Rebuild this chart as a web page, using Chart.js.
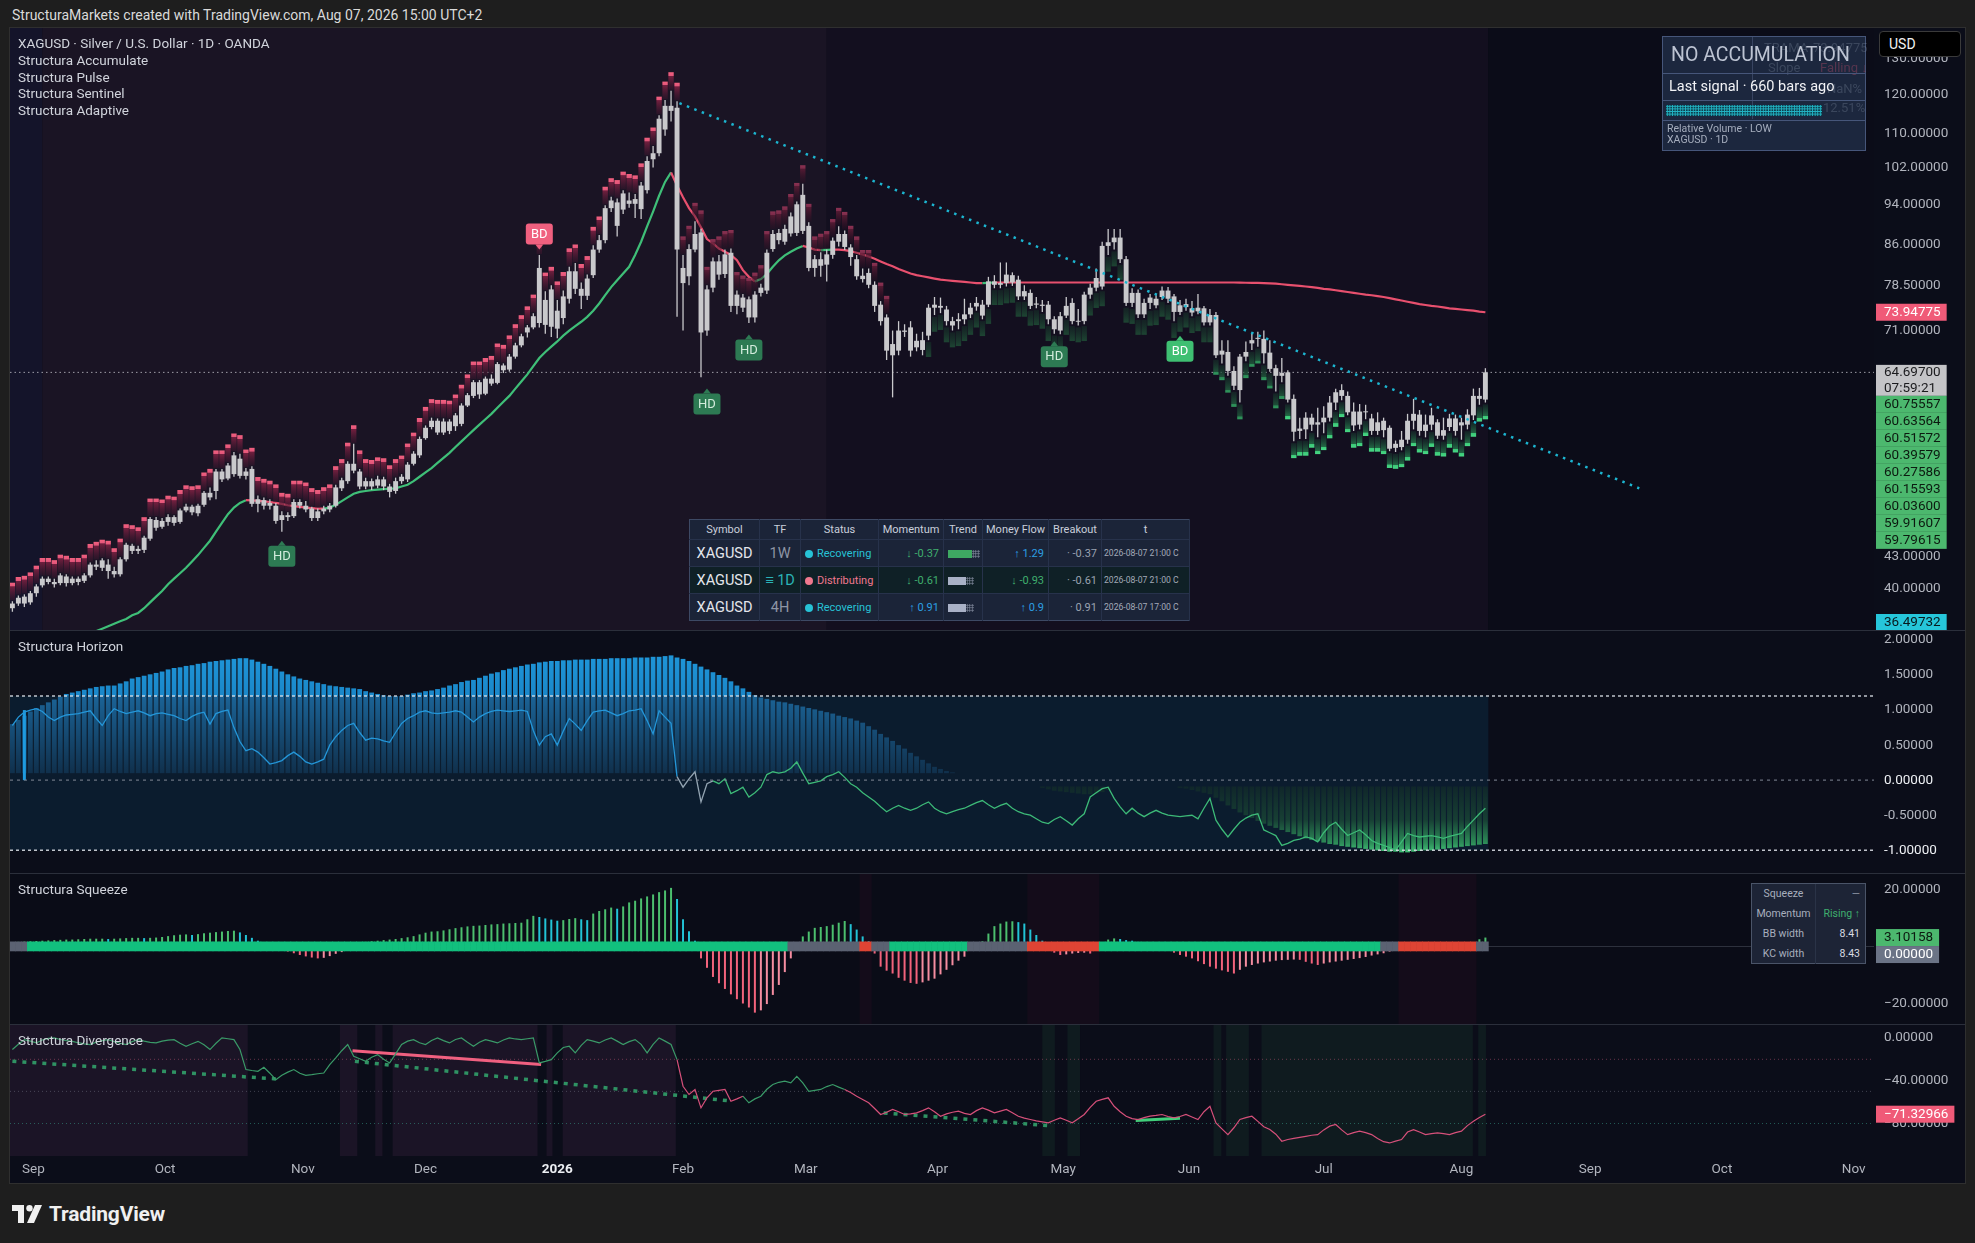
<!DOCTYPE html>
<html lang="en">
<head>
<meta charset="UTF-8">
<meta name="viewport" content="width=device-width, initial-scale=1.0">
<title>XAGUSD · Silver / U.S. Dollar · 1D</title>
<script src="https://cdn.jsdelivr.net/npm/chart.js"></script>
<style>
  html, body { margin: 0; padding: 0; }
  body { width: 1975px; height: 1243px; background: #1e1e1e; position: relative; overflow: hidden;
    font-family: Roboto, "Noto Sans", Arial, sans-serif; color: #d1d4dc; }
  #header { position: absolute; left: 12px; top: 6px; font-size: 14px; line-height: 18px; color: #dadada; }
  #frame { position: absolute; left: 9px; top: 27px; width: 1955px; height: 1155px; border: 1px solid #2f2f2f; background: #0b0d19; }
  .pane { position: absolute; left: 10px; width: 1955px; }
  #paneMain { top: 28px; height: 602px; background: #0b0d19; }
  #paneHor { top: 631px; height: 242px; background: #0b0d19; }
  #paneSqz { top: 874px; height: 150px; background: #0a0c17; }
  #paneDiv { top: 1025px; height: 157px; background: #0b0d19; }
  .sep { position: absolute; left: 10px; width: 1955px; height: 1px; background: #2b2f3b; }
  .lbl { position: absolute; left: 18px; font-size: 13.5px; line-height: 16.8px; color: #d1d4dc; }

  #usd { position: absolute; left: 1879px; top: 31px; width: 82px; height: 26px; background: #000; border: 1px solid #3a3a3a;
    border-radius: 4px; font-size: 14px; font-weight: 400; color: #f2f2f2; line-height: 24px; padding-left: 9px; box-sizing: border-box; }

  #acc { position: absolute; left: 1662px; top: 36px; width: 204px; height: 115px; background: rgba(30,42,66,0.93);
    border: 1px solid #46567a; box-sizing: border-box; }
  #acc .row { position: absolute; left: 0; width: 202px; border-bottom: 1px solid #46567a; box-sizing: border-box; }
  #acc .ghost { position: absolute; font-size: 13px; color: rgba(170,180,200,0.22); white-space: nowrap; }
  #acc .hatch { position: absolute; left: 3px; top: 4px; width: 156px; height: 11px;
    background-color: #0d3e4c;
    background-image: radial-gradient(circle, #22b3c4 0.9px, transparent 1.1px);
    background-size: 2.6px 2.6px; }

  #tbl { position: absolute; left: 689px; top: 519px; width: 500px; border-collapse: collapse; table-layout: fixed;
    background: #1b2438; border: 1px solid #3d4964; }
  #tbl th { height: 19px; padding: 0; font-weight: 400; font-size: 11px; color: #c9cfdb; text-align: center;
    border-right: 1px solid #27324b; }
  #tbl td { height: 26px; padding: 0 4px; font-size: 11px; border-right: 1px solid #27324b; border-top: 1px solid #27324b;
    white-space: nowrap; overflow: hidden; }
  #tbl tr.hl td { background: #0f2026; }
  #tbl .sym { font-size: 14.5px; color: #e4e6ec; text-align: center; }
  #tbl .tf { font-size: 14.5px; color: #8e95a5; text-align: center; }
  #tbl .tf.act { color: #2ab4b8; }
  #tbl .num { text-align: right; }
  #tbl .ts { font-size: 8.6px; color: #a3aab8; padding: 0 2px; }
  .dot { display: inline-block; width: 8px; height: 8px; border-radius: 50%; margin-right: 4px; vertical-align: -1px; }
  .cy { color: #27c2d6; } .pk { color: #f0788e; } .gr { color: #3fae6e; } .bl { color: #2c9fe2; } .gy { color: #9aa2b1; }
  .tb { display: inline-block; height: 8px; vertical-align: middle; }
  .tt { display: inline-block; width: 8px; height: 8px; vertical-align: middle;
    background-image: radial-gradient(circle, #7d8598 0.8px, transparent 1px); background-size: 2.5px 2.5px; }

  #sqbox { position: absolute; left: 1751px; top: 883px; width: 115px; height: 81px; background: #1d2436;
    border: 1px solid #4a5468; box-sizing: border-box; font-size: 10.5px; }
  #sqbox div { position: absolute; height: 20px; line-height: 20px; }
  #sqbox .k { left: 0; width: 63px; text-align: center; color: #a7aebd; border-right: 1px solid #2a3347; }
  #sqbox .v { right: 5px; text-align: right; color: #d8dbe2; }

  #logo { position: absolute; left: 12px; top: 1201px; height: 26px; display: flex; align-items: center; }
  #logo span { font-size: 21px; font-weight: 700; color: #f0f0f0; margin-left: 7px; letter-spacing: -0.2px; }
</style>
</head>
<body>
<div id="header">StructuraMarkets created with TradingView.com, Aug 07, 2026 15:00 UTC+2</div>
<div id="frame"></div>

<div class="pane" id="paneMain"><canvas id="cMain"></canvas></div>
<div class="sep" style="top:630px"></div>
<div class="pane" id="paneHor"><canvas id="cHor"></canvas></div>
<div class="sep" style="top:873px"></div>
<div class="pane" id="paneSqz"><canvas id="cSqz"></canvas></div>
<div class="sep" style="top:1024px"></div>
<div class="pane" id="paneDiv"><canvas id="cDiv"></canvas></div>

<div class="lbl" style="top:35px">XAGUSD · Silver / U.S. Dollar · 1D · OANDA<br>Structura Accumulate<br>Structura Pulse<br>Structura Sentinel<br>Structura Adaptive</div>
<div class="lbl" style="top:638px">Structura Horizon</div>
<div class="lbl" style="top:881px">Structura Squeeze</div>
<div class="lbl" style="top:1032px">Structura Divergence</div>

<div id="usd">USD</div>

<div id="acc">
  <div class="ghost" style="left:101px;top:3px">TRAMA</div>
  <div class="ghost" style="left:150px;top:3px">73.94775</div>
  <div class="ghost" style="left:105px;top:23px">Slope</div>
  <div class="ghost" style="left:157px;top:23px;color:rgba(240,90,120,0.28)">Falling ↓</div>
  <div class="ghost" style="left:164px;top:44px">NaN%</div>
  <div class="ghost" style="left:160px;top:63px">12.51%</div>
  <div style="position:absolute;left:89px;top:0;width:1px;height:82px;background:rgba(90,105,140,0.45)"></div>
  <div class="row" style="top:0;height:37px;font-size:19.5px;line-height:36px;color:#bcc3d2;padding-left:8px">NO ACCUMULATION</div>
  <div class="row" style="top:37px;height:27px;font-size:14.5px;line-height:26px;color:#f2f3f6;padding-left:6px">Last signal · 660 bars ago</div>
  <div class="row" style="top:64px;height:20px"><div class="hatch"></div></div>
  <div style="position:absolute;left:4px;top:86px;font-size:10.5px;line-height:11px;color:#a5adbd">Relative Volume · LOW<br>XAGUSD · 1D</div>
</div>

<table id="tbl">
  <colgroup><col style="width:70px"><col style="width:41px"><col style="width:78px"><col style="width:65px"><col style="width:39px"><col style="width:66px"><col style="width:53px"><col style="width:88px"></colgroup>
  <tr><th>Symbol</th><th>TF</th><th>Status</th><th>Momentum</th><th>Trend</th><th>Money Flow</th><th>Breakout</th><th>t</th></tr>
  <tr><td class="sym">XAGUSD</td><td class="tf">1W</td><td><span class="dot" style="background:#27c2d6"></span><span class="cy">Recovering</span></td><td class="num gr">↓ -0.37</td><td><span class="tb" style="width:24px;background:#3ea862"></span><span class="tt"></span></td><td class="num bl">↑ 1.29</td><td class="num gy">· -0.37</td><td class="ts">2026-08-07 21:00 C</td></tr>
  <tr class="hl"><td class="sym">XAGUSD</td><td class="tf act">≡ 1D</td><td><span class="dot" style="background:#f0788e"></span><span class="pk">Distributing</span></td><td class="num gr">↓ -0.61</td><td><span class="tb" style="width:18px;background:#a9b1c6"></span><span class="tt"></span></td><td class="num gr">↓ -0.93</td><td class="num gy">· -0.61</td><td class="ts">2026-08-07 21:00 C</td></tr>
  <tr><td class="sym">XAGUSD</td><td class="tf">4H</td><td><span class="dot" style="background:#27c2d6"></span><span class="cy">Recovering</span></td><td class="num bl">↑ 0.91</td><td><span class="tb" style="width:18px;background:#a9b1c6"></span><span class="tt"></span></td><td class="num bl">↑ 0.9</td><td class="num gy">· 0.91</td><td class="ts">2026-08-07 17:00 C</td></tr>
</table>

<div id="sqbox">
  <div class="k" style="top:0">Squeeze</div><div class="v" style="top:0;color:#8b93a3">—</div>
  <div class="k" style="top:20px">Momentum</div><div class="v" style="top:20px;color:#3fae6e">Rising ↑</div>
  <div class="k" style="top:40px">BB width</div><div class="v" style="top:40px">8.41</div>
  <div class="k" style="top:60px">KC width</div><div class="v" style="top:60px">8.43</div>
</div>

<div id="logo">
  <svg width="30" height="18" viewBox="0 0 30 18">
    <path d="M0 0h12v18H6V6H0z" fill="#f0f0f0"/>
    <circle cx="17.5" cy="3.2" r="3.2" fill="#f0f0f0"/>
    <path d="M23 0h7l-8 18h-7z" fill="#f0f0f0"/>
  </svg>
  <span>TradingView</span>
</div>

<script>
// ---- data (bar index 0 = 1 Sep 2025, daily bars) ----
const firstBar = -4;
const X_MIN = -4.4, X_MAX = 306.9, AXIS_W = 91;

const monthIdx = [-0.5, 21.5, 44.5, 65, 87, 108, 128.5, 150.5, 171.5, 192.5, 215, 238, 259.5, 281.5, 303.5];
const monthLabels = ['Sep', 'Oct', 'Nov', 'Dec', '2026', 'Feb', 'Mar', 'Apr', 'May', 'Jun', 'Jul', 'Aug', 'Sep', 'Oct', 'Nov'];

const opens = [
  38.3,38.7,39.3,38.8,39.6,40.3,40.9,40.6,40.5,41.1,
  40.5,40.9,40.7,41.2,42.2,41.9,42.2,41.6,41.3,42.7,
  44.0,43.5,43.6,44.7,46.6,45.9,46.4,46.9,46.4,47.6,
  48.0,47.3,48.2,49.5,49.7,51.9,51.1,51.6,53.4,51.4,
  52.2,48.3,48.7,48.1,48.1,46.6,47.1,47.0,48.5,48.1,
  47.8,46.8,47.5,47.7,48.1,50.0,50.8,52.8,51.9,50.2,
  50.8,50.3,51.0,50.2,49.7,50.8,51.0,52.8,53.8,55.9,
  57.3,58.1,56.6,58.0,57.4,57.7,60.1,61.4,63.3,61.7,
  63.8,63.2,65.7,65.1,67.0,68.7,70.7,71.5,72.2,76.0,
  71.6,74.2,73.0,76.2,81.0,77.9,76.7,80.3,85.0,86.8,
  93.2,94.4,92.9,94.8,94.1,93.0,97.0,103.9,105.3,111.0,
  117.0,116.5,81.6,80.1,85.0,88.3,71.0,78.1,82.8,80.5,
  84.4,75.0,76.4,76.1,73.1,77.2,77.6,85.1,88.2,86.5,
  88.1,88.2,96.0,89.6,81.6,83.2,82.2,84.0,86.5,88.0,
  85.4,83.2,80.2,80.7,78.6,75.2,73.1,68.9,67.9,71.0,
  71.5,68.4,69.5,70.2,74.7,75.0,74.4,72.5,72.5,72.8,
  73.6,74.9,75.2,75.2,79.2,78.6,78.9,80.3,79.5,76.6,
  77.2,75.2,75.2,75.2,72.8,71.0,73.4,75.5,72.5,72.5,
  76.9,78.1,78.3,85.7,86.4,87.3,83.2,75.5,77.2,73.6,
  75.5,76.2,76.5,77.6,76.6,74.0,75.3,74.6,74.1,74.6,
  72.3,73.5,67.3,67.7,64.9,62.2,67.0,69.0,69.8,69.7,
  67.6,65.3,64.2,64.7,61.0,56.8,57.0,58.5,57.6,57.9,
  58.5,60.5,61.4,61.4,59.3,57.6,59.3,58.4,56.8,58.1,
  57.2,54.7,54.8,55.7,58.1,58.9,56.8,57.6,57.9,56.2,
  57.3,58.4,57.5,57.6,58.8,61.4,60.9
];
const highs = [
  38.9,39.4,39.5,39.8,40.4,41.1,41.1,40.9,41.4,41.3,
  41.1,41.1,41.4,42.4,42.6,42.8,42.7,42.0,42.9,44.3,
  44.2,44.0,45.0,46.9,46.9,46.8,47.2,47.1,47.8,48.3,
  48.2,48.3,49.7,50.1,52.2,52.2,52.9,54.2,54.0,52.3,
  52.5,49.2,49.0,48.8,48.4,47.5,47.4,48.8,48.8,48.6,
  48.0,47.8,48.1,48.4,50.4,51.2,53.1,55.2,52.2,51.2,
  51.1,51.4,51.3,50.5,51.2,51.6,53.0,54.3,56.1,57.5,
  58.5,58.4,58.4,58.3,59.1,60.4,61.8,63.6,63.6,64.1,
  64.4,66.2,66.0,67.4,69.1,70.5,71.9,73.8,84.0,77.5,
  78.5,76.0,77.6,81.8,82.5,79.0,80.4,85.8,87.8,93.8,
  95.6,95.2,97.0,96.5,96.2,98.8,104.6,107.0,114.6,118.5,
  121.0,118.2,84.0,86.0,90.5,89.0,78.5,83.5,84.0,85.0,
  85.2,77.6,77.0,76.6,77.5,78.8,85.0,88.8,89.0,89.8,
  92.3,94.6,98.4,90.3,84.0,84.5,85.0,87.3,89.5,88.7,
  86.0,84.0,81.5,81.5,79.2,75.8,73.6,71.0,72.5,72.0,
  72.5,70.5,70.8,75.3,76.5,76.4,75.0,73.2,73.8,76.2,
  75.5,76.5,76.0,80.0,80.3,82.6,82.6,80.8,80.2,78.5,
  77.8,76.5,76.0,75.8,73.3,74.0,76.5,76.3,74.5,77.4,
  78.8,81.5,86.5,89.0,89.0,89.0,83.8,78.0,77.8,76.2,
  77.0,76.8,78.3,78.2,77.0,76.0,76.2,75.8,77.0,75.0,
  74.5,74.0,69.5,69.5,65.6,67.4,69.3,70.5,70.8,71.0,
  69.5,65.8,66.8,65.0,61.6,58.5,59.2,59.0,59.8,60.0,
  61.4,62.4,63.0,62.0,60.5,60.3,60.2,59.0,59.2,58.5,
  57.5,55.6,56.8,59.0,61.0,59.5,58.9,59.8,58.3,58.5,
  59.0,58.9,58.5,59.6,62.4,62.5,65.3
];
const lows = [
  38.0,38.5,38.4,38.6,39.3,40.1,40.4,40.1,40.3,40.2,
  40.3,40.3,40.5,41.0,41.7,41.6,40.9,41.0,41.1,42.5,
  43.2,43.2,43.3,44.5,45.5,45.7,46.0,46.0,46.2,47.4,
  47.1,47.0,48.0,48.7,48.8,50.7,50.9,51.3,51.1,51.0,
  48.0,47.4,47.7,47.7,46.2,45.4,46.5,46.8,47.8,47.4,
  46.5,46.5,47.2,47.4,47.9,49.7,50.5,51.7,49.9,49.9,
  49.8,50.0,49.8,49.0,49.4,50.5,50.7,52.6,53.5,55.7,
  57.0,56.3,56.3,56.4,56.8,57.4,59.9,61.1,61.0,61.5,
  62.8,63.0,64.6,64.8,66.7,68.4,69.9,71.2,71.5,70.5,
  70.0,69.8,72.0,75.4,77.0,74.5,76.0,79.8,84.4,86.2,
  92.4,87.5,92.0,93.3,91.2,91.0,96.3,102.0,104.6,109.5,
  113.0,73.2,71.0,78.5,84.5,64.0,70.2,77.3,79.5,79.8,
  74.0,73.6,74.0,72.2,72.3,76.6,77.0,84.6,86.0,85.9,
  87.5,87.6,88.0,81.0,80.0,80.0,79.2,83.3,85.6,84.9,
  82.0,79.5,79.0,78.0,74.0,71.8,66.5,61.2,67.2,70.0,
  67.0,67.8,67.2,69.5,73.5,73.8,71.8,71.0,71.2,72.0,
  73.0,74.2,72.8,74.8,78.0,78.0,78.3,78.4,76.0,76.0,
  74.5,74.6,74.0,72.0,70.5,70.4,73.0,72.0,71.8,72.0,
  76.2,77.5,77.8,84.0,85.0,82.5,75.0,74.8,73.0,73.0,
  74.5,74.6,76.0,75.5,72.5,73.5,74.2,73.3,73.6,71.8,
  71.8,66.8,66.0,64.2,62.2,60.5,66.3,68.0,68.5,66.0,
  64.8,62.0,63.3,60.5,55.5,55.8,55.8,56.8,56.0,56.5,
  58.0,59.5,60.8,58.8,56.8,57.0,58.3,56.3,56.3,56.0,
  54.3,54.2,54.4,55.2,57.0,56.2,56.0,56.9,55.8,55.7,
  56.8,56.2,55.7,57.0,58.2,60.2,60.5
];
const closes = [
  38.7,39.2,38.7,39.6,40.2,40.9,40.6,40.4,41.2,40.5,
  40.9,40.6,41.2,42.2,42.0,42.6,41.6,41.3,42.7,44.1,
  43.5,43.7,44.8,46.7,45.8,46.5,46.9,46.3,47.6,48.0,
  47.4,48.1,49.5,49.0,51.9,51.0,52.6,53.8,51.4,51.9,
  48.3,48.8,48.1,48.4,46.5,47.1,46.9,48.5,48.1,47.7,
  46.8,47.5,47.8,48.1,50.1,50.9,52.8,52.0,50.2,50.8,
  50.2,51.0,50.2,49.6,50.8,51.3,52.7,54.0,55.8,57.2,
  58.1,56.6,58.0,56.8,58.8,60.1,61.5,63.3,61.6,63.8,
  63.1,65.9,65.0,67.0,68.7,70.1,71.5,73.3,81.6,71.9,
  77.8,71.3,76.6,81.0,77.9,76.7,79.7,85.0,86.8,93.2,
  94.8,89.6,96.3,94.1,95.1,98.0,103.5,105.3,113.7,117.0,
  115.7,85.0,78.9,85.1,88.0,70.7,77.8,82.8,80.4,84.1,
  75.0,76.9,74.7,73.1,76.9,78.1,84.4,88.0,86.8,89.0,
  91.5,94.0,88.6,81.6,83.2,82.0,84.1,86.7,88.0,85.5,
  83.6,80.1,79.6,78.6,75.0,72.5,67.9,67.2,71.0,70.8,
  67.9,69.4,68.0,74.7,75.2,74.7,72.5,71.8,72.8,73.6,
  74.7,75.5,73.4,79.2,78.6,78.9,80.4,79.0,76.6,77.5,
  75.0,75.4,75.0,72.8,71.2,73.3,75.0,72.5,72.4,76.9,
  78.1,79.8,85.7,86.4,87.3,83.2,75.5,77.2,73.6,75.5,
  76.4,75.1,77.6,76.2,74.0,75.1,74.8,73.9,74.7,72.3,
  73.5,67.2,67.9,64.9,62.8,67.0,67.7,69.5,69.7,67.5,
  65.2,64.2,64.6,60.9,56.7,57.1,58.5,57.6,57.9,58.5,
  60.5,61.9,62.2,59.2,57.5,59.3,59.2,56.8,57.9,56.9,
  54.6,55.2,55.7,58.1,59.0,56.8,57.6,58.8,56.2,56.9,
  58.4,56.8,57.9,58.9,61.4,61.0,64.697
];
// Structura Adaptive (TRAMA)
const trama = [
  null,null,null,null,null,null,null,null,null,null,
  35.0,35.3,35.7,36.1,36.4,36.6,36.8,37.0,37.2,37.4,
  37.7,37.9,38.3,38.8,39.3,39.8,40.4,40.9,41.4,41.9,
  42.5,43.1,43.8,44.5,45.4,46.3,47.2,47.9,48.4,48.7,
  48.68,48.62,48.56,48.5,48.4,48.3,48.15,48.05,47.97,47.9,
  47.85,47.8,47.79,47.9,48.2,48.6,49.0,49.4,49.6,49.7,
  49.8,49.85,49.9,49.95,50.0,50.2,50.4,50.8,51.3,51.8,
  52.3,52.9,53.5,54.1,54.8,55.5,56.2,56.9,57.6,58.3,
  59.0,59.8,60.6,61.4,62.4,63.4,64.4,65.6,66.8,67.7,
  68.5,69.3,70.2,71.0,71.7,72.4,73.2,74.2,75.4,76.8,
  78.2,79.4,80.6,81.8,84.0,86.5,89.5,92.5,95.8,98.8,
  100.9,98.0,95.5,93.2,91.5,89.3,87.0,86.2,85.2,84.6,
  84.0,83.0,81.2,80.0,79.2,79.6,80.5,81.8,83.0,83.9,
  84.6,85.2,85.7,85.4,85.0,84.9,84.95,85.0,85.0,84.9,
  84.7,84.4,84.1,83.7,83.3,82.8,82.3,81.9,81.4,81.0,
  80.6,80.3,80.1,79.9,79.7,79.5,79.4,79.3,79.2,79.1,
  79.0,78.9,78.9,78.95,79.0,79.0,79.0,79.0,79.0,79.0,
  79.0,79.0,79.0,79.0,79.0,79.0,79.0,79.0,79.0,79.0,
  79.0,79.0,79.0,79.0,79.0,79.0,79.0,79.0,79.0,79.0,
  79.0,79.0,79.0,79.0,79.0,79.0,79.0,79.0,79.0,79.0,
  79.0,79.0,79.0,79.0,79.0,78.98,78.96,78.94,78.92,78.9,
  78.85,78.8,78.7,78.6,78.5,78.4,78.3,78.2,78.05,77.9,
  77.8,77.65,77.5,77.35,77.2,77.05,76.9,76.8,76.65,76.5,
  76.3,76.1,75.9,75.7,75.5,75.3,75.15,75.0,74.9,74.75,
  74.6,74.5,74.4,74.3,74.2,74.05,73.95
];
const priceTicks = [130, 120, 110, 102, 94, 86, 78.5, 71, 43, 40];
const trendFrom = [107.4, 117.7], trendTo = [267.7, 50.0];
// accumulation blocks: [from, to, strength]
const distZones = [[-4, 107, 1], [108, 142, 0]];
const accZones = [[149, 196, 0], [197, 208, 1], [209, 242, 2]];
// HD / BD markers
const markerIdx = [84, 41, 112, 119, 170, 191];
const markerPrice = [88.0, 43.0, 60.3, 68.0, 67.0, 67.8];
const markerText = ['BD', 'HD', 'HD', 'HD', 'HD', 'BD'];
const markerKind = ['bear', 'hd', 'hd', 'hd', 'hd', 'bull'];
const tramaTag = 73.94775;
const clockTag = '07:59:21';
const levelTags = ['60.75557', '60.63564', '60.51572', '60.39579', '60.27586', '60.15593', '60.03600', '59.91607', '59.79615'];
const floorTag = '36.49732';

// Structura Horizon
const horizonTop = [
  0.80,0.86,0.92,0.98,1.03,1.07,1.11,1.15,1.19,1.23,
  1.25,1.27,1.29,1.31,1.33,1.34,1.35,1.35,1.38,1.41,
  1.45,1.47,1.49,1.51,1.53,1.55,1.58,1.60,1.61,1.63,
  1.64,1.66,1.67,1.69,1.70,1.71,1.72,1.73,1.74,1.74,
  1.72,1.69,1.66,1.63,1.59,1.55,1.51,1.48,1.45,1.43,
  1.41,1.39,1.37,1.35,1.34,1.33,1.32,1.31,1.30,1.27,
  1.25,1.23,1.21,1.20,1.20,1.20,1.22,1.24,1.25,1.27,
  1.28,1.30,1.32,1.35,1.37,1.40,1.42,1.43,1.46,1.49,
  1.52,1.54,1.57,1.59,1.61,1.63,1.65,1.66,1.68,1.69,
  1.70,1.70,1.71,1.71,1.72,1.72,1.72,1.73,1.73,1.73,
  1.74,1.74,1.74,1.74,1.75,1.75,1.75,1.76,1.76,1.77,
  1.78,1.75,1.73,1.70,1.66,1.62,1.58,1.54,1.50,1.46,
  1.41,1.35,1.31,1.26,1.21,1.18,1.16,1.14,1.12,1.11,
  1.09,1.07,1.05,1.03,1.01,0.99,0.97,0.95,0.92,0.90,
  0.88,0.85,0.82,0.77,0.72,0.66,0.61,0.56,0.50,0.45,
  0.39,0.34,0.29,0.24,0.19,0.16,0.13,0.11,0.10
];
const horizonNegStart = 168;
const horizonNeg = [
  -0.11,-0.13,-0.15,-0.16,-0.17,-0.18,-0.19,-0.20,-0.20,-0.19,-0.17,-0.14,
  null,null,null,null,null,null,null,null,null,null,null,
  -0.11,-0.12,-0.14,-0.16,-0.18,-0.20,-0.25,-0.30,-0.36,-0.41,
  -0.46,-0.50,-0.54,-0.58,-0.62,-0.65,-0.68,-0.71,-0.74,-0.77,
  -0.80,-0.83,-0.85,-0.87,-0.89,-0.91,-0.92,-0.94,-0.95,-0.96,
  -0.97,-0.98,-0.99,-1.00,-1.01,-1.02,-1.02,-1.03,-1.03,-1.02,
  -1.01,-1.00,-1.00,-0.99,-0.98,-0.97,-0.96,-0.95,-0.94,-0.93,
  -0.92,-0.91
];
const horizonLine = [
  0.78,0.90,0.97,1.00,1.02,0.98,0.90,0.85,0.90,0.93,
  0.94,0.95,0.97,0.99,0.88,0.78,0.92,1.02,0.98,0.95,
  0.97,0.99,0.96,0.92,0.95,0.96,0.94,0.92,0.88,0.85,
  0.91,0.95,0.97,0.80,0.95,0.98,1.00,0.75,0.55,0.42,
  0.45,0.40,0.32,0.23,0.25,0.28,0.35,0.40,0.34,0.26,
  0.23,0.26,0.30,0.50,0.62,0.71,0.78,0.81,0.68,0.57,
  0.60,0.59,0.56,0.54,0.68,0.81,0.88,0.92,0.97,0.99,
  0.96,0.95,0.96,0.97,0.99,0.97,0.90,0.83,0.90,0.95,
  0.98,1.00,0.99,0.98,0.99,1.00,0.98,0.71,0.50,0.62,
  0.66,0.50,0.70,0.88,0.80,0.71,0.85,0.97,0.99,1.00,
  0.96,0.92,0.95,0.99,1.00,1.02,0.85,0.66,0.99,0.90,
  0.81,0.05,-0.10,0.02,0.12,-0.31,-0.05,-0.01,-0.05,0.02,
  -0.19,-0.15,-0.10,-0.24,-0.18,-0.10,0.08,0.12,0.10,0.12,
  0.17,0.26,0.10,-0.05,-0.03,-0.01,0.05,0.08,0.12,0.04,
  -0.05,-0.10,-0.18,-0.24,-0.30,-0.38,-0.45,-0.40,-0.36,-0.40,
  -0.43,-0.40,-0.35,-0.31,-0.40,-0.45,-0.48,-0.45,-0.42,-0.40,
  -0.36,-0.32,-0.29,-0.35,-0.40,-0.36,-0.33,-0.40,-0.45,-0.48,
  -0.50,-0.55,-0.60,-0.62,-0.56,-0.52,-0.58,-0.64,-0.55,-0.48,
  -0.24,-0.18,-0.12,-0.10,-0.26,-0.38,-0.48,-0.40,-0.47,-0.52,
  -0.47,-0.43,-0.47,-0.50,-0.51,-0.52,-0.51,-0.50,-0.55,-0.40,
  -0.26,-0.57,-0.70,-0.81,-0.70,-0.60,-0.54,-0.50,-0.48,-0.71,
  -0.75,-0.79,-0.93,-0.90,-0.86,-0.84,-0.81,-0.83,-0.88,-0.75,
  -0.65,-0.60,-0.70,-0.79,-0.75,-0.71,-0.78,-0.86,-0.90,-0.93,
  -0.96,-1.00,-0.88,-0.76,-0.79,-0.81,-0.80,-0.79,-0.81,-0.83,
  -0.80,-0.78,-0.76,-0.66,-0.57,-0.48,-0.40
];
const horizonLevels = [1.2, 0, -1];
const horizonTicks = [2, 1.5, 1, 0.5, 0, -0.5, -1];

// Structura Squeeze
const squeezeVals = [
  1.5,1.6,1.7,1.8,1.9,2.0,2.1,2.2,2.3,2.4,
  2.4,2.5,2.6,2.7,2.7,2.7,2.6,2.7,2.8,2.9,
  3.0,3.0,2.9,3.0,3.1,3.3,3.6,3.9,4.1,4.2,
  4.0,4.3,4.6,4.8,5.0,5.2,5.4,5.5,4.9,4.0,
  3.0,2.0,1.2,0.4,-0.5,-1.2,-1.8,-2.4,-3.0,-3.5,
  -3.9,-4.2,-4.0,-3.4,-2.6,-2.0,-0.6,0.8,1.3,1.6,
  1.8,2.0,2.2,2.4,2.6,2.9,3.2,3.6,4.2,4.8,
  5.2,5.3,5.6,6.0,6.4,6.7,7.0,7.2,7.3,7.5,
  7.7,7.8,8.0,8.1,8.2,8.3,9.5,10.7,10.3,9.8,
  9.4,9.0,9.2,9.6,9.9,9.5,9.2,11.5,12.4,13.0,
  13.6,13.2,14.0,15.4,16.0,16.8,17.5,18.2,19.0,19.6,
  20.5,16.6,9.5,5.3,2.0,-4.2,-7.5,-10.7,-12.9,-14.9,
  -16.8,-18.5,-20.0,-21.4,-23.2,-22.4,-20.2,-17.0,-13.5,-9.0,
  -4.2,-0.8,3.5,5.2,6.5,6.8,7.1,7.6,8.3,8.9,
  7.8,5.9,3.5,1.8,-2.5,-7.1,-8.5,-9.5,-11.0,-12.0,
  -12.8,-13.1,-12.6,-12.0,-11.3,-9.8,-8.2,-6.6,-5.0,-3.6,
  -1.5,0.5,1.8,4.5,7.1,8.0,8.7,8.8,8.5,8.0,
  5.9,4.0,2.0,-1.0,-2.2,-3.0,-2.8,-2.5,-2.3,-2.2,
  -2.5,-1.5,1.2,2.4,2.8,2.6,2.2,2.0,1.6,1.2,
  0.8,0.3,-0.5,-1.2,-2.2,-3.0,-3.6,-4.2,-5.2,-6.2,
  -7.1,-7.8,-8.4,-8.9,-9.5,-8.2,-7.1,-6.5,-6.0,-5.6,
  -5.3,-5.0,-4.8,-4.7,-4.6,-4.7,-5.4,-6.0,-6.5,-6.0,
  -5.6,-5.3,-5.0,-4.7,-4.4,-4.1,-3.7,-3.2,-2.8,-2.4,
  -1.8,-1.4,-1.2,-1.1,-1.0,-1.0,-0.9,-1.0,-1.1,-1.0,
  -0.9,-0.8,-0.6,-0.3,0.8,2.5,3.1
];
const sqzFrom  = [-4, -1, 126, 138, 140, 143, 156, 166, 178, 225, 228, 241];
const sqzTo    = [-2, 125, 137, 139, 142, 155, 165, 177, 224, 227, 240, 242];
const sqzState = ['off', 'on', 'off', 'fire', 'off', 'on', 'off', 'fire', 'on', 'off', 'fire', 'off'];
const squeezeTicks = [20, -20];
const squeezeTag = 3.10158;

// Structura Divergence
const divergenceVals = [
  -10.9,-6.0,-1.6,-3.0,-4.7,-2.0,-0.5,0,-1.5,-2.5,
  -3.2,-4.5,-5.5,-6.2,-4.0,-2.5,-1.6,-3.5,-5.0,-6.2,
  -3.5,-1.6,-3.0,-4.2,-4.7,-3.0,-2.0,-1.6,-5.0,-7.8,
  -5.5,-3.2,-6.5,-10.9,-5.0,0,-0.8,-1.6,-10.9,-29.6,
  -30.5,-31.2,-27.5,-33.0,-39.0,-35.0,-32.0,-29.6,-33.0,-35.0,
  -34.4,-33.5,-32.8,-25.0,-18.7,-12.0,-6.2,-17.2,-19.5,-21.9,
  -18.0,-15.6,-20.0,-23.4,-15.0,-6.2,-3.0,-1.6,-4.5,-6.2,
  -2.5,0,-2.5,-4.7,-1.5,0,-4.0,-7.8,-4.0,-1.6,
  -3.0,-4.7,-2.0,0,-1.0,-1.6,-0.8,0,-23.4,-22.0,
  -20.3,-14.0,-9.0,-7.8,-14.0,-7.0,-1.6,-3.0,-4.7,-2.0,
  0,-3.0,-6.2,-3.5,-1.6,-6.0,-14.0,-6.0,0,-3.0,
  -6.2,-20.3,-45.2,-52.9,-48.2,-65.4,-56.0,-49.9,-49.0,-48.2,
  -59.2,-57.0,-54.5,-60.7,-57.0,-54.5,-48.0,-43.6,-41.5,-40.5,
  -42.0,-35.9,-42.0,-49.9,-49.0,-48.2,-45.5,-43.6,-46.0,-48.2,
  -51.0,-54.5,-57.5,-60.7,-66.0,-71.6,-69.5,-66.9,-69.0,-71.6,
  -71.0,-70.1,-68.0,-65.4,-69.0,-73.2,-71.0,-69.5,-68.5,-70.5,
  -71.6,-68.0,-65.4,-67.5,-70.1,-68.5,-66.9,-70.0,-73.2,-75.0,
  -76.3,-77.5,-78.5,-79.4,-77.0,-74.8,-77.0,-79.4,-75.5,-71.6,
  -65.0,-59.2,-57.5,-56.0,-63.9,-69.0,-73.2,-75.5,-76.3,-74.5,
  -73.2,-72.5,-71.6,-73.5,-74.8,-73.5,-71.6,-74.0,-76.3,-69.0,
  -63.9,-79.4,-85.0,-90.4,-84.0,-76.3,-74.5,-73.2,-78.0,-83.0,
  -85.7,-90.0,-96.6,-95.0,-94.0,-93.0,-92.0,-91.0,-90.4,-86.0,
  -82.5,-80.9,-86.0,-90.4,-88.5,-87.2,-88.5,-90.4,-94.0,-97.0,
  -98.2,-96.5,-95.0,-88.0,-85.7,-88.0,-90.4,-89.5,-88.8,-89.5,
  -90.4,-88.5,-87.2,-82.0,-77.9,-74.5,-71.3
];
const divBearZones = [[-4.4, 35.3], [50.7, 53.6], [56.6, 57.8], [59.5, 83.7], [85.2, 86.2], [87.9, 106.8]];
const divBullZones = [[168, 170.1], [172.2, 174.3], [196.6, 197.9], [198.7, 202.5], [204.6, 239.9], [240.8, 242.1]];
const divLevels = [-20, -50, -80];
const divDashed = [[[-4.0, -21.8], [40.2, -38.4]], [[53.2, -21.9], [116.3, -59.2]], [[141.5, -70.1], [168.9, -81.9]]];
const divBearLine = [[52.8, -11.9], [84.3, -24.9]];
const divBullLine = [[183.6, -77.3], [191.0, -75.1]];
const divTicks = [0, -40, -80];
const divTag = -71.32966;

// ---- helpers ----
Chart.defaults.font.family = 'Roboto, "Noto Sans", sans-serif';
Chart.defaults.animation = false;
const N = opens.length;
const bars = opens.map((_, k) => firstBar + k);
const pts = (arr, start) => arr.map((v, k) => ({ x: (start === undefined ? firstBar : start) + k, y: v }));
const seg = (a) => a.map(p => ({ x: p[0], y: p[1] }));
const hline = (v) => [{ x: X_MIN, y: v }, { x: X_MAX, y: v }];
const TICK_FONT = { size: 13.5 };

function xScale(show) {
  return {
    type: 'linear', min: X_MIN, max: X_MAX, offset: false, display: show,
    grid: { display: false, drawTicks: false }, border: { display: false },
    ticks: {
      autoSkip: false, maxRotation: 0, padding: 6,
      color: c => monthLabels[c.index] === '2026' ? '#eceef2' : '#b2b5be',
      font: c => ({ size: 13.5, weight: monthLabels[c.index] === '2026' ? 'bold' : 'normal' }),
      callback: (v, k) => monthLabels[k]
    },
    afterBuildTicks: s => { s.ticks = monthIdx.map(v => ({ value: v })); },
    afterFit: s => { s.paddingLeft = 0; s.paddingRight = 0; if (show) s.height = 26; }
  };
}
function yScale(extra, ticks, fmt) {
  return Object.assign({
    position: 'right',
    grid: { display: false, drawTicks: false }, border: { display: false },
    ticks: { color: '#b2b5be', font: TICK_FONT, padding: 10, autoSkip: false, callback: v => fmt(v) },
    afterBuildTicks: s => { s.ticks = ticks.map(v => ({ value: v })); },
    afterFit: s => { s.width = AXIS_W; s.paddingTop = 0; s.paddingBottom = 0; }
  }, extra);
}
function baseOptions(scales) {
  return {
    responsive: true, maintainAspectRatio: false, animation: false, events: [],
    layout: { padding: 0, autoPadding: false },
    plugins: { legend: { display: false }, tooltip: { enabled: false } },
    scales
  };
}
function drawTag(ctx, x, yTop, h, bg, fg, lines) {
  ctx.font = '13.5px Roboto, sans-serif';
  const w = Math.max(...lines.map(t => ctx.measureText(t).width)) + 14;
  ctx.fillStyle = bg;
  ctx.fillRect(x, yTop, w, h);
  ctx.fillStyle = fg;
  ctx.textBaseline = 'middle';
  ctx.textAlign = 'left';
  const lh = h / lines.length;
  lines.forEach((t, k) => ctx.fillText(t, x + 8, yTop + lh * k + lh / 2 + 0.5));
}
function fillZones(chart, zones, color) {
  const { ctx, chartArea: a, scales: { x } } = chart;
  ctx.save();
  ctx.fillStyle = color;
  zones.forEach(z => {
    const l = Math.max(a.left, x.getPixelForValue(z[0])), r = Math.min(a.right, x.getPixelForValue(z[1]));
    ctx.fillRect(l, a.top, r - l, a.bottom - a.top);
  });
  ctx.restore();
}

// ---- main price pane ----
const wicks = bars.map((i, k) => ({ x: i, y: [lows[k], highs[k]] }));
const bodies = bars.map((i, k) => ({ x: i, y: [opens[k], closes[k]] }));
const distBlocks = [], accBlocks = [];
distZones.forEach(([a, b, s]) => { for (let i = a; i <= b; i++) { const h = highs[i - firstBar]; distBlocks.push({ x: i, y: [h * 1.002, h * 1.042], s }); } });
accZones.forEach(([a, b, s]) => { for (let i = a; i <= b; i++) { const l = lows[i - firstBar]; accBlocks.push({ x: i, y: [l / 1.038, l / 1.004], s }); } });

function blockFill(c, up) {
  const raw = c.raw;
  if (!raw || !c.chart.chartArea) return 'rgba(0,0,0,0)';
  const ys = c.chart.scales.y;
  const yLo = ys.getPixelForValue(raw.y[0]), yHi = ys.getPixelForValue(raw.y[1]);
  if (up) {
    const g = c.chart.ctx.createLinearGradient(0, yLo, 0, yHi);
    if (raw.s) {
      g.addColorStop(0, 'rgba(60,22,46,0.45)'); g.addColorStop(0.78, 'rgba(120,32,64,0.95)');
      g.addColorStop(0.8, '#e3557a'); g.addColorStop(1, '#f2617f');
    } else {
      g.addColorStop(0, 'rgba(50,16,36,0.3)'); g.addColorStop(0.8, 'rgba(96,28,54,0.85)');
      g.addColorStop(0.82, '#7c2b4a'); g.addColorStop(1, '#8c3252');
    }
    return g;
  }
  const g = c.chart.ctx.createLinearGradient(0, yHi, 0, yLo);
  if (raw.s === 2) {
    g.addColorStop(0, 'rgba(22,58,46,0.45)'); g.addColorStop(0.76, 'rgba(36,112,72,0.92)');
    g.addColorStop(0.78, '#3cc877'); g.addColorStop(1, '#48d886');
  } else if (raw.s === 1) {
    g.addColorStop(0, 'rgba(22,52,42,0.5)'); g.addColorStop(0.8, 'rgba(32,88,60,0.9)');
    g.addColorStop(0.82, '#2b8a55'); g.addColorStop(1, '#31985e');
  } else {
    g.addColorStop(0, 'rgba(22,48,40,0.55)'); g.addColorStop(1, 'rgba(30,72,52,0.95)');
  }
  return g;
}

const mainBg = {
  id: 'mainBg',
  beforeDatasetsDraw(chart) {
    fillZones(chart, [[X_MIN, 1]], '#14142a');
    fillZones(chart, [[1, 132]], '#1a1424');
    fillZones(chart, [[132, 242.5]], '#130f1f');
    fillZones(chart, [[242.5, X_MAX]], '#0b0c18');
  }
};
const markerPlugin = {
  id: 'markers',
  afterDatasetsDraw(chart) {
    const { ctx, scales: { x, y } } = chart;
    ctx.save();
    markerIdx.forEach((m, k) => {
      const px = x.getPixelForValue(m), py = y.getPixelForValue(markerPrice[k]);
      const kind = markerKind[k];
      const bg = kind === 'bear' ? '#f0607f' : kind === 'bull' ? '#3fbf72' : '#2d7a53';
      const w = 27, h = 21;
      ctx.fillStyle = bg;
      ctx.beginPath();
      ctx.roundRect(px - w / 2, py - h / 2, w, h, 3);
      ctx.fill();
      ctx.beginPath();
      if (kind === 'bear') { ctx.moveTo(px - 4, py + h / 2); ctx.lineTo(px + 4, py + h / 2); ctx.lineTo(px, py + h / 2 + 5); }
      else { ctx.moveTo(px - 4, py - h / 2); ctx.lineTo(px + 4, py - h / 2); ctx.lineTo(px, py - h / 2 - 5); }
      ctx.fill();
      ctx.fillStyle = kind === 'hd' ? '#d3ecdc' : '#ffffff';
      ctx.font = '13px Roboto, sans-serif';
      ctx.textAlign = 'center';
      ctx.textBaseline = 'middle';
      ctx.fillText(markerText[k], px, py + 0.5);
    });
    ctx.restore();
  }
};
const mainTags = {
  id: 'mainTags',
  afterDraw(chart) {
    const { ctx, chartArea: a, scales: { y } } = chart;
    const x0 = a.right + 2;
    ctx.save();
    drawTag(ctx, x0, y.getPixelForValue(tramaTag) - 8.5, 17, '#f05a78', '#ffffff', [tramaTag.toFixed(5)]);
    const yl = y.getPixelForValue(closes[N - 1]);
    drawTag(ctx, x0, yl - 7.5, 31, '#c4c4c7', '#1b1b1e', [closes[N - 1].toFixed(5), clockTag]);
    let gy = yl + 23.5;
    levelTags.forEach(t => { drawTag(ctx, x0, gy, 17, '#4cb86e', '#0c1a10', [t]); gy += 17; });
    drawTag(ctx, x0, a.bottom - 16, 16, '#26c6da', '#08191d', [floorTag]);
    ctx.restore();
  }
};

new Chart(document.getElementById('cMain'), {
  type: 'bar',
  data: {
    datasets: [
      { type: 'line', data: [{ x: trendFrom[0], y: trendFrom[1] }, { x: trendTo[0], y: trendTo[1] }],
        borderColor: '#1cb5d0', borderWidth: 2.5, borderDash: [2.5, 5.5], pointRadius: 0, order: 1 },
      { data: bodies, backgroundColor: '#c9c9cc', barPercentage: 0.82, categoryPercentage: 1, minBarLength: 1, grouped: false, borderWidth: 0, order: 2 },
      { data: wicks, backgroundColor: '#c9c9cc', maxBarThickness: 1.3, grouped: false, borderWidth: 0, order: 3 },
      { data: distBlocks, backgroundColor: c => blockFill(c, true), barPercentage: 0.9, categoryPercentage: 1, grouped: false, borderWidth: 0, order: 4 },
      { data: accBlocks, backgroundColor: c => blockFill(c, false), barPercentage: 0.9, categoryPercentage: 1, grouped: false, borderWidth: 0, order: 4 },
      { type: 'line', data: pts(trama), borderColor: '#e8506e', borderWidth: 2.2, pointRadius: 0,
        segment: { borderColor: s => s.p1.parsed.y > s.p0.parsed.y ? '#3fbf78' : '#e8506e' }, order: 5 },
      { type: 'line', data: hline(closes[N - 1]), borderColor: 'rgba(205,205,212,0.75)', borderWidth: 1,
        borderDash: [1.5, 3], pointRadius: 0, order: 6 }
    ]
  },
  options: baseOptions({
    x: xScale(false),
    y: yScale({ type: 'logarithmic', min: 36.49, max: 139.1 }, priceTicks, v => Number(v).toFixed(5))
  }),
  plugins: [mainBg, markerPlugin, mainTags]
});

// ---- Structura Horizon ----
function horizonBlue(c) {
  const ch = c.chart;
  if (!ch.chartArea) return '#1a7fc0';
  const ys = ch.scales.y;
  const yTop = ys.getPixelForValue(1.85), yMid = ys.getPixelForValue(1.2), yBot = ys.getPixelForValue(0.1);
  const t = (yMid - yTop) / (yBot - yTop);
  const g = ch.ctx.createLinearGradient(0, yTop, 0, yBot);
  g.addColorStop(0, '#1f97da'); g.addColorStop(t, '#1a87c9');
  g.addColorStop(Math.min(1, t + 0.002), '#1b6396'); g.addColorStop(1, '#10304c');
  return g;
}
function horizonGreen(c) {
  const ch = c.chart;
  if (!ch.chartArea) return '#2f8f5a';
  const ys = ch.scales.y;
  const g = ch.ctx.createLinearGradient(0, ys.getPixelForValue(-0.09), 0, ys.getPixelForValue(-1.04));
  g.addColorStop(0, '#10272a'); g.addColorStop(0.5, '#173f34'); g.addColorStop(0.85, '#2d8d58'); g.addColorStop(1, '#45c77c');
  return g;
}
const horizonFill = {
  id: 'horizonFill',
  beforeDatasetsDraw(chart) {
    const { ctx, chartArea: a, scales: { x, y } } = chart;
    const t = y.getPixelForValue(1.2), b = y.getPixelForValue(-1);
    ctx.fillStyle = '#0b1c2e';
    ctx.fillRect(a.left, t, x.getPixelForValue(242.5) - a.left, b - t);
  }
};
const blueBars = horizonTop.map((v, k) => ({ x: firstBar + k, y: [0.1, v] }));
const greenBars = horizonNeg.map((v, k) => v === null ? null : ({ x: horizonNegStart + k, y: [-0.09, v] })).filter(Boolean);

new Chart(document.getElementById('cHor'), {
  type: 'bar',
  data: {
    datasets: [
      { type: 'line', data: hline(horizonLevels[0]), borderColor: 'rgba(225,228,235,0.85)', borderWidth: 1.5, borderDash: [3, 3], pointRadius: 0, order: 0 },
      { type: 'line', data: hline(horizonLevels[1]), borderColor: 'rgba(130,136,150,0.8)', borderWidth: 1.2, borderDash: [3, 4], pointRadius: 0, order: 0 },
      { type: 'line', data: hline(horizonLevels[2]), borderColor: 'rgba(225,228,235,0.85)', borderWidth: 1.5, borderDash: [3, 3], pointRadius: 0, order: 0 },
      { type: 'line', data: pts(horizonLine), borderColor: '#2196d6', borderWidth: 1.3, pointRadius: 0,
        segment: { borderColor: s => s.p0.parsed.x < 107 ? '#2496d8' : s.p0.parsed.x < 113 ? '#93a4b2' : '#3dba78' }, order: 1 },
      { data: [{ x: -2, y: [0, 1.0] }], backgroundColor: '#1e9be0', maxBarThickness: 3, grouped: false, order: 2 },
      { data: blueBars, backgroundColor: horizonBlue, barPercentage: 0.8, categoryPercentage: 1, grouped: false, borderWidth: 0, order: 3 },
      { data: greenBars, backgroundColor: horizonGreen, barPercentage: 0.8, categoryPercentage: 1, grouped: false, borderWidth: 0, order: 3 }
    ]
  },
  options: (() => {
    const o = baseOptions({
      x: xScale(false),
      y: yScale({ type: 'linear', min: -1.324, max: 2.128 }, horizonTicks, v => Number(v).toFixed(5))
    });
    o.scales.y.ticks.color = c => (c.tick && (c.tick.value === 0 || c.tick.value === -1)) ? '#eef0f4' : '#b2b5be';
    return o;
  })(),
  plugins: [horizonFill]
});

// ---- Structura Squeeze ----
const sqzBand = [];
sqzFrom.forEach((a, k) => { for (let i = a; i <= sqzTo[k]; i++) sqzBand.push({ x: i, y: [-1.6, 1.6], s: sqzState[k] }); });
const sqzFire = sqzFrom.map((a, k) => [a - 0.5, sqzTo[k] + 0.5]).filter((_, k) => sqzState[k] === 'fire');
const sqzBars = pts(squeezeVals).map(p => ({ x: p.x, y: [0, p.y] }));
function sqzColor(c) {
  const k = c.dataIndex, v = squeezeVals[k], prev = k > 0 ? squeezeVals[k - 1] : v;
  if (v >= 0) return v >= prev ? '#4cbf6e' : '#22c3d6';
  return v <= prev ? '#f2637c' : '#f58da0';
}
const sqzPlugin = {
  id: 'sqzExtras',
  beforeDatasetsDraw(chart) {
    fillZones(chart, sqzFire, 'rgba(34,14,30,0.45)');
    const { ctx, chartArea: a, scales: { y } } = chart;
    ctx.fillStyle = '#2d313d';
    ctx.fillRect(a.left, Math.round(y.getPixelForValue(0)), a.right - a.left, 1);
  },
  afterDraw(chart) {
    const { ctx, chartArea: a, scales: { y } } = chart;
    const yt = y.getPixelForValue(squeezeTag) - 8.5;
    drawTag(ctx, a.right + 2, yt, 17, '#4cb86e', '#0c1a10', [squeezeTag.toFixed(5)]);
    drawTag(ctx, a.right + 2, yt + 17, 17, '#6b7486', '#ffffff', [(0).toFixed(5)]);
  }
};
new Chart(document.getElementById('cSqz'), {
  type: 'bar',
  data: {
    datasets: [
      { data: sqzBand, backgroundColor: c => c.raw && c.raw.s === 'on' ? '#12c07e' : c.raw && c.raw.s === 'fire' ? '#df4434' : '#5b6272',
        barPercentage: 1, categoryPercentage: 1, grouped: false, borderWidth: 0, order: 1 },
      { data: sqzBars, backgroundColor: sqzColor, maxBarThickness: 2, grouped: false, borderWidth: 0, order: 2 }
    ]
  },
  options: baseOptions({
    x: xScale(false),
    y: yScale({ type: 'linear', min: -27.18, max: 25.36 }, squeezeTicks, v => Number(v).toFixed(5).replace('-', '−'))
  }),
  plugins: [sqzPlugin]
});

// ---- Structura Divergence ----
const divPlugin = {
  id: 'divExtras',
  beforeDatasetsDraw(chart) {
    fillZones(chart, divBearZones, '#1b1426');
    fillZones(chart, divBullZones, '#0f1b1f');
  },
  afterDraw(chart) {
    const { ctx, chartArea: a, scales: { y } } = chart;
    drawTag(ctx, a.right + 2, y.getPixelForValue(divTag) - 8.5, 17, '#f05a78', '#ffffff', [divTag.toFixed(5).replace('-', '−')]);
  }
};
const divLevelColors = ['rgba(200,90,120,0.5)', 'rgba(140,145,160,0.4)', 'rgba(60,170,150,0.5)'];
new Chart(document.getElementById('cDiv'), {
  type: 'line',
  data: {
    datasets: [
      ...divLevels.map((v, k) => ({ data: hline(v), borderColor: divLevelColors[k], borderWidth: 1, borderDash: [1, 3], pointRadius: 0, order: 5 })),
      ...divDashed.map(d => ({ data: seg(d), borderColor: '#2f9263', borderWidth: 3.5, borderDash: [4, 6], pointRadius: 0, order: 2 })),
      { data: seg(divBearLine), borderColor: '#f06080', borderWidth: 3, pointRadius: 0, order: 2 },
      { data: seg(divBullLine), borderColor: '#40cf7a', borderWidth: 3, pointRadius: 0, order: 2 },
      { data: pts(divergenceVals), borderColor: '#3a9a68', borderWidth: 1.2, pointRadius: 0,
        segment: { borderColor: s => { const x = s.p0.parsed.x; return (x < 107 || (x >= 118 && x < 135)) ? '#3a9a68' : '#d6507a'; } }, order: 1 }
    ]
  },
  options: baseOptions({
    x: xScale(true),
    y: yScale({ type: 'linear', min: -110.4, max: 12.06 }, divTicks, v => Number(v).toFixed(5).replace('-', '−'))
  }),
  plugins: [divPlugin]
});
</script>
</body>
</html>
